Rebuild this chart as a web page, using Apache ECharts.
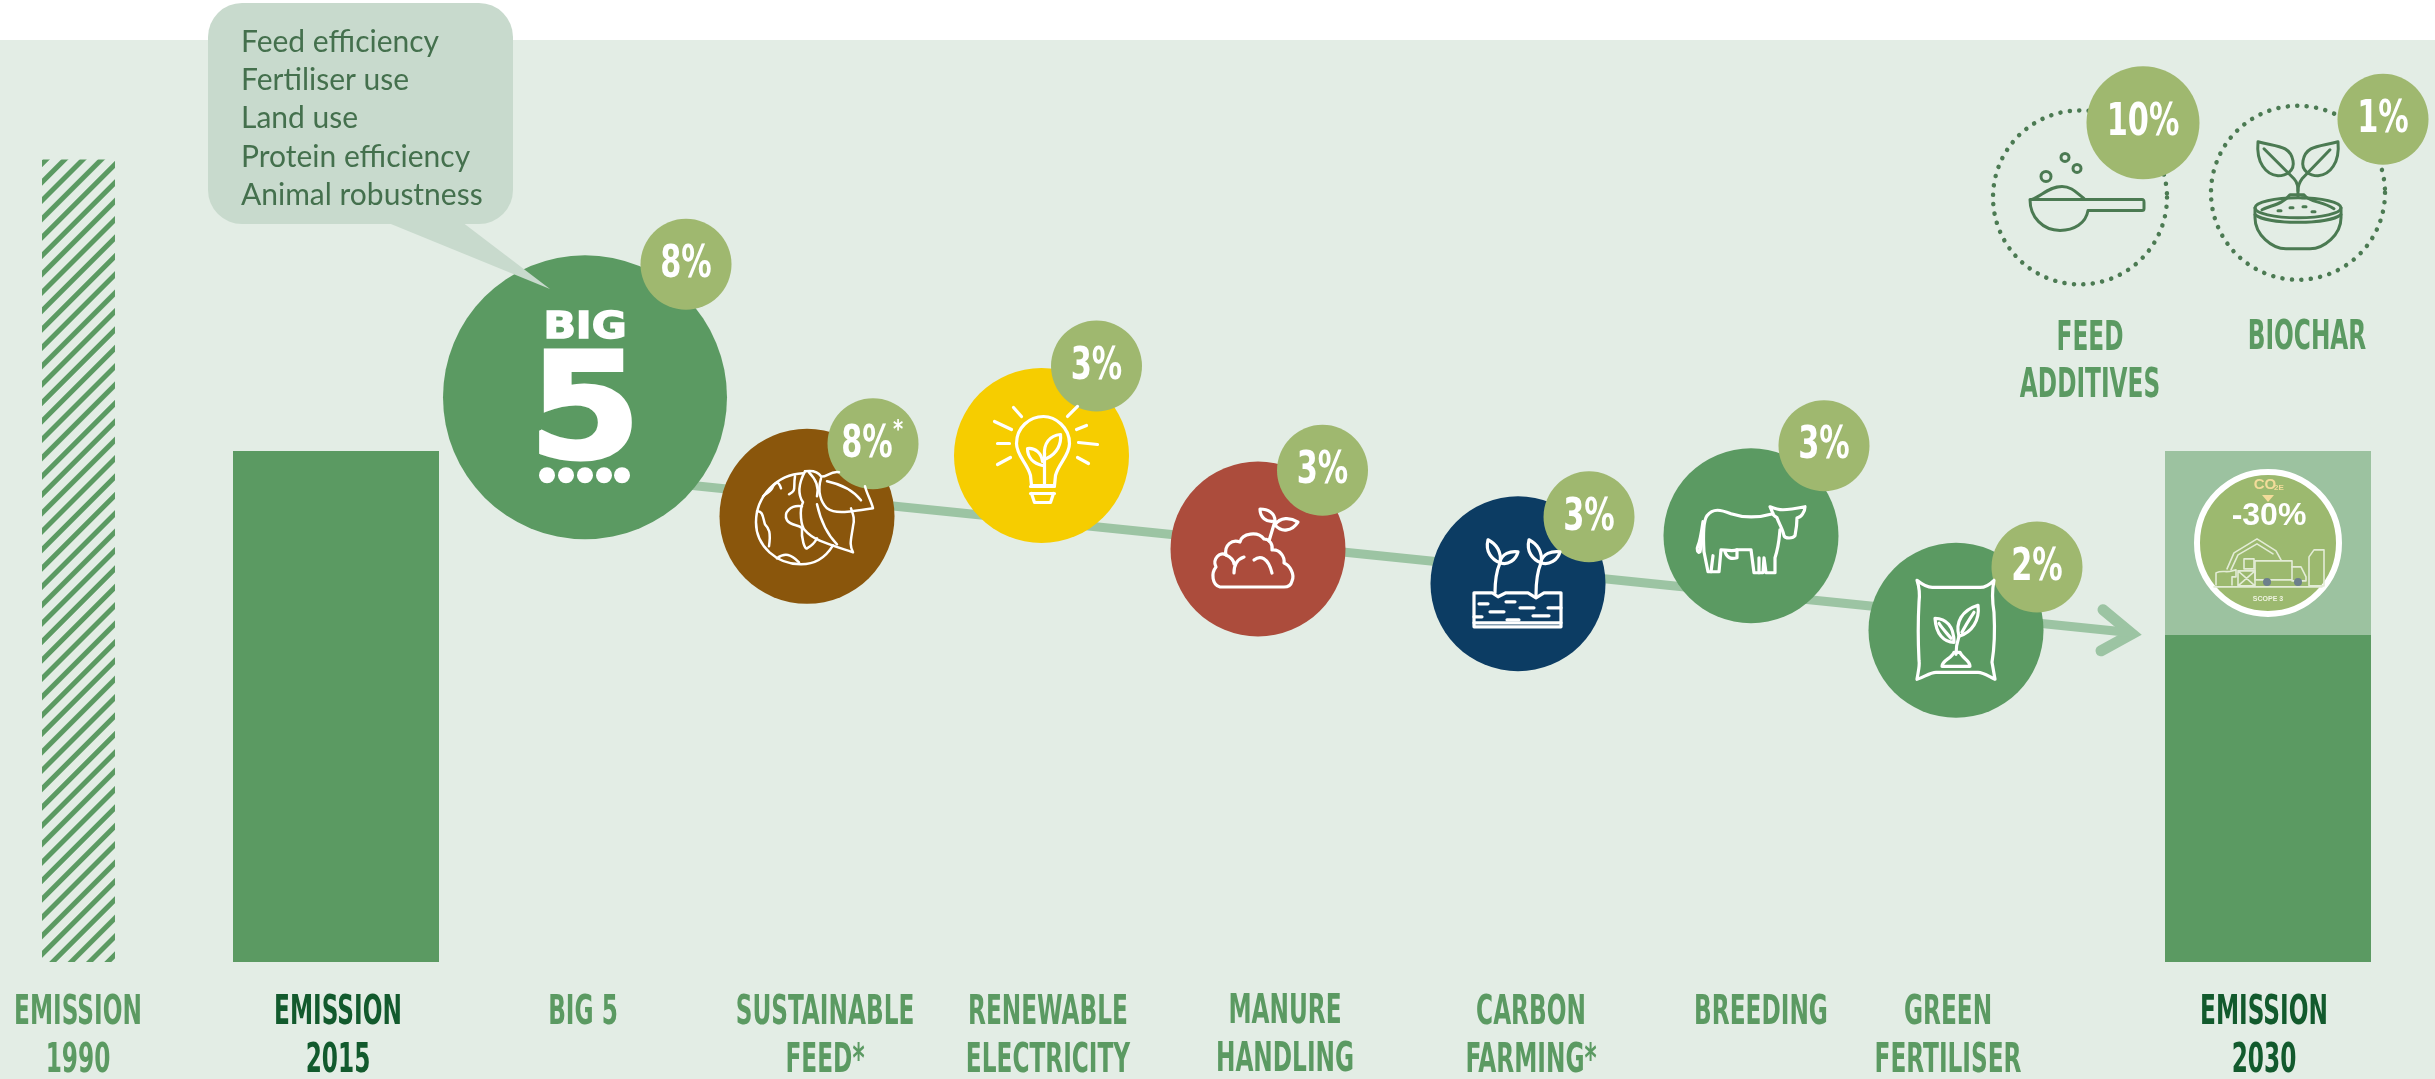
<!DOCTYPE html>
<html>
<head>
<meta charset="utf-8">
<style>
  html, body { margin: 0; padding: 0; background: #fff; }
  #chart { width: 2435px; height: 1079px; }
</style>
<script src="https://cdn.jsdelivr.net/npm/echarts@6/dist/echarts.min.js"></script>
</head>
<body>
<div id="chart"></div>
<script>
  // 数据
  var categories = ['EMISSION\n1990', 'EMISSION\n2015', 'BIG 5', 'SUSTAINABLE\nFEED*', 'RENEWABLE\nELECTRICITY',
    'MANURE\nHANDLING', 'CARBON\nFARMING*', 'BREEDING', 'GREEN\nFERTILISER', 'EMISSION\n2030'];
  var emission1990 = 157;
  var emission2015 = 100;
  var emission2030 = 64;
  var reduction2030 = 36;
  var stepShares = ['8%', '8%*', '3%', '3%', '3%', '3%', '2%'];
  var stepLevels = [110.5, 87.2, 99.1, 80.8, 74, 83.4, 64.9];
  var badgeLevels = [136.5, 101.4, 116.6, 96.2, 87.1, 101, 77.3];
  var extraNames = ['FEED\nADDITIVES', 'BIOCHAR'];
  var extraShares = ['10%', '1%'];
  var extraLevels = [149.6, 150.5];
  var extraBadgeLevels = [164.2, 164.9];
  var trendLevels = [95.4, 64.4];
  var big5Items = ['Feed efficiency', 'Fertiliser use', 'Land use', 'Protein efficiency', 'Animal robustness'];

  // 位置（x 轴单位）
  var labelX = [78, 338, 583, 825, 1048, 1285, 1531, 1761, 1948, 2264];
  var barX = [78.5, 336, 2268];
  var stepX = [585, 807, 1041.5, 1258, 1518, 1751, 1956];
  var badgeX = [686, 873, 1096.5, 1322.5, 1589, 1824, 2037];
  var extraX = [2080, 2298];
  var extraBadgeX = [2143, 2383];
  var extraLabelX = [2090, 2307];
  var trendX = [585, 2132];
  var X_MAX = 2435;

  var GREEN = '#5b9a62';
  var LIGHT_GREEN = '#9cc2a0';
  var BADGE = '#9fb86f';
  var BG = '#e3ede5';
  var DARK_LABEL = '#125a2d';
  var ICON_GREEN = '#4b7a52';
  var stepColors = [GREEN, '#8a560c', '#f6cd00', '#ac4c3c', '#0c3c63', GREEN, GREEN];
  var CONDENSED = '"DejaVu Sans Condensed", "DejaVu Sans", sans-serif';
  var LABEL_FONT = 'bold 41px ' + CONDENSED;
  var LABEL_SCALE = 0.63;
  var SHARE_FONT = 'bold 45px ' + CONDENSED;
  var SHARE_SCALE = 0.75;

  // 图标（相对圆心的路径）
  var icons = {
    earth: [
      'M-4 -43 C-30 -42 -51 -20 -51 6 C-51 30 -30 48 -6 48 C8 48 18 42 26 29',
      'M-44 -20 C-40 -24 -36 -24 -34 -30 C-30 -36 -28 -34 -26 -28',
      'M-50 -5 C-44 -6 -44 2 -42 8 C-38 12 -36 16 -38 30',
      'M-12 -40 C-14 -28 -10 -26 -18 -22',
      'M-5 -10 C-16 -12 -24 -4 -20 4 C-16 10 -8 8 -5 12 C-6 22 -2 34 0 32 C4 30 8 26 10 22',
      'M-30 42 C-22 36 -16 38 -8 46',
      'M-2 -45 C-10 -30 -8 -20 -4 -14 C-8 -6 -6 10 -2 14 C6 24 22 28 46 36 C42 28 44 24 46 10 C48 2 46 -2 44 -8',
      'M10 -12 C14 6 22 20 30 28',
      'M-2 -45 C4 -46 10 -46 14 -40 C18 -38 24 -46 32 -44',
      'M14 -38 C10 -25 14 -14 20 -8 C28 -2 40 -4 66 -8 C64 -16 60 -22 58 -30',
      'M20 -35 C34 -32 46 -26 54 -16',
      'M2 -44 C10 -36 12 -28 10 -20'
    ],
    bulb: [
      'M2 -39 C-12 -39 -25 -28 -25 -12 C-25 0 -14 8 -11 20 L-10 30 L13 30 L14 20 C17 8 28 0 28 -12 C28 -28 14 -39 2 -39 Z',
      'M-11 31 H13 M-11 38 H13 M-10 38 L-7 47 H9 L12 38',
      'M3 29 V-2',
      'M3 0 C2 -12 8 -20 19 -21 C20 -12 16 -2 5 3',
      'M1 10 C-8 8 -14 2 -14 -7 C-6 -8 0 -2 1 6',
      'M-28 -48 L-20 -39 M-47 -34 L-30 -26 M-44 -12 L-32 -12 M-44 9 L-31 2',
      'M26 -39 L36 -49 M35 -26 L45 -30 M37 -13 L56 -11 M36 2 L47 8'
    ],
    cloud: [
      'M-38 38 C-46 36 -47 24 -42 18 C-46 10 -38 2 -32 6 C-34 -4 -26 -10 -18 -7 C-16 -16 0 -18 6 -10 C12 -10 15 -4 14 1 C22 0 27 8 26 14 C32 16 37 26 34 32 C33 36 30 38 26 38 Z',
      'M-32 6 C-27 8 -24 12 -24 15',
      'M-24 24 C-24 14 -20 10 -14 8',
      'M-4 11 C2 6 10 8 14 24',
      'M11 -8 L17 -28',
      'M17 -28 C8 -26 2 -32 2 -40 C10 -40 17 -36 17 -28 Z',
      'M17 -24 C22 -32 32 -32 40 -27 C34 -18 24 -16 17 -24 Z'
    ],
    soil: [
      'M-44 9 H-26 L-20 13 L-12 9 H10 L18 14 L26 9 H43 V43 H-44 Z',
      'M-44 39 H43',
      'M-39 20 H-30 M-12 18 H-3 M2 24 H16 M30 24 H43 M-28 28 H-14 M15 32 H31 M-11 36 H1 M-44 33 H-36',
      'M-23 9 C-23 -4 -21 -14 -18 -21',
      'M-18 -21 C-26 -24 -33 -32 -30 -44 C-22 -40 -16 -32 -18 -21 Z',
      'M-18 -22 C-16 -30 -8 -33 0 -32 C-2 -24 -10 -18 -18 -21 Z',
      'M18 11 C18 -4 20 -14 23 -21',
      'M23 -21 C15 -24 8 -32 11 -44 C19 -40 25 -32 23 -21 Z',
      'M23 -22 C25 -30 33 -33 42 -32 C40 -24 31 -18 23 -21 Z'
    ],
    cow: [
      'M22 -22 C8 -18 -8 -18 -20 -22 C-30 -26 -38 -28 -44 -20 C-48 -14 -48 0 -47 16 L-43 36 H-32 L-30 14 C-26 14 -18 16 -14 14 C-8 14 -4 14 0 14 L3 37 H12 L13 22 L15 37 H24 L24 22 C28 10 28 4 29 -6',
      'M22 -22 L19 -29 C24 -27 28 -26 32 -26 C38 -26 44 -27 54 -29 C54 -24 50 -18 46 -18 C46 -10 45 -5 44 0 C42 3 34 3 33 0 C32 -6 28 -12 26 -18 C24 -20 22 -20 22 -22',
      'M-48 -14 C-50 0 -51 6 -53 10 C-55 14 -53 18 -51 16 C-50 12 -50 6 -49 0',
      'M-26 16 C-24 22 -20 24 -14 22 V14',
      'M-40 36 L-38 20 M8 37 L8 22'
    ],
    bag: [
      'M-39 -50 C-34 -46 -28 -42 -22 -43 H22 C28 -42 34 -46 38 -50 C36 -40 36 -30 38 -18 C39 0 38 20 36 32 L39 49 C34 47 28 42 22 42 H-20 C-26 42 -32 47 -39 49 C-38 42 -36 36 -37 30 C-38 10 -38 -10 -37 -28 C-36 -36 -37 -44 -39 -50 Z',
      'M0 24 C0 16 1 12 3 6',
      'M-14 36 H14 C14 30 6 28 4 22 H-2 C-4 28 -14 30 -14 36 Z',
      'M3 6 C-1 -8 6 -20 22 -25 C24 -10 16 2 3 6 Z',
      'M-2 12 C-12 12 -20 4 -21 -12 C-10 -12 -2 -4 -2 12 Z',
      'M6 2 C10 -6 14 -12 18 -18 M-5 8 C-10 2 -14 -2 -17 -7'
    ],
    scoop: [
      'M-50 2 H62 C64 2 64 3 64 5 V11 C64 13 63 13 62 13 H8 C6 26 -6 33 -20 33 C-37 33 -50 20 -50 2 Z',
      'M-48 2 C-38 -2 -30 -11 -18 -11 C-8 -11 -2 -3 4 1',
      'M-39 -21 A5 5 0 1 0 -29 -21 A5 5 0 1 0 -39 -21',
      'M-19 -40 A4 4 0 1 0 -11 -40 A4 4 0 1 0 -19 -40',
      'M-7 -29 A4 4 0 1 0 1 -29 A4 4 0 1 0 -7 -29'
    ],
    biochar: [
      'M-40 -51 C-22 -46 -8 -48 -5 -32 C-3 -22 -12 -17 -20 -17 C-32 -18 -42 -30 -40 -51 Z',
      'M-34 -44 L-4 -14 C0 -10 0 -6 0 4',
      'M40 -51 C22 -46 8 -48 5 -32 C3 -22 12 -17 20 -17 C32 -18 42 -30 40 -51 Z',
      'M32 -43 L4 -14 C1 -10 0 -6 0 -2',
      'M-43 15 A43 10 0 1 1 43 15 A43 10 0 1 1 -43 15',
      'M-43 15 V25 C-43 42 -26 56 -12 56 H12 C26 56 43 42 43 25 V15',
      'M-43 22 C-30 32 30 32 43 22',
      'M-36 17 C-26 12 -16 12 -8 2 H6 C12 10 24 8 36 16',
      'M-20 18 h3 M-8 15 h3 M5 14 h3 M4 5 h3 M14 19 h3'
    ],
    farm: [
      'M-41 26 L-34 10 L-11 -4 L8 8 L13 17',
      'M-37 27 L-30 12 L-11 1 L5 11',
      'M-24 16 H-14 V26 H-24 Z',
      'M-13 18 H24 V37 H-13 Z',
      'M24 24 H33 L38 34 V38 H24',
      'M-30 28 H-13 V43 H-30 Z M-30 28 L-13 43 M-13 28 L-30 43',
      'M41 14 L46 7 H56 V43 H41 Z',
      'M-54 44 H54',
      'M-52 42 V30 C-46 27 -42 30 -36 28 L-32 27 V34 H-36 V42'
    ]
  };
  var stepIcons = [null, 'earth', 'bulb', 'cloud', 'soil', 'cow', 'bag'];

  // 路径转成 custom 元素
  function iconPaths(name, color, width) {
    return icons[name].map(function (d) {
      return {
        type: 'path',
        shape: { pathData: d },
        style: { fill: 'none', stroke: color, lineWidth: width, lineCap: 'round', lineJoin: 'round' }
      };
    });
  }

  function textEl(x, y, text, font, fill, scaleX, lineHeight, stroke) {
    return {
      type: 'text',
      x: x,
      y: y,
      scaleX: scaleX || 1,
      style: {
        text: text,
        font: font,
        fill: fill,
        stroke: stroke ? fill : undefined,
        lineWidth: stroke || 0,
        align: 'center',
        verticalAlign: 'middle',
        lineHeight: lineHeight || undefined
      }
    };
  }

  var barAxis = function () {
    return { type: 'value', min: 0, max: X_MAX, show: false };
  };

  var option = {
    animation: false,
    backgroundColor: '#fff',
    grid: { left: 0, right: 0, top: 42, bottom: 117 },
    // 每根柱子一条 x 轴，宽度互不影响
    xAxis: [barAxis(), barAxis(), barAxis(), barAxis()],
    yAxis: { type: 'value', min: 0, max: 180, show: false },
    graphic: {
      elements: [
        { type: 'rect', z: -10, shape: { x: 0, y: 40, width: X_MAX, height: 1039 }, style: { fill: BG } },
        {
          type: 'polygon', z: 100,
          shape: { points: [[386, 222], [462, 222], [550, 289]] },
          style: { fill: '#c8dacd' }
        },
        {
          type: 'rect', z: 100,
          shape: { x: 208, y: 3, width: 305, height: 221, r: 34 },
          style: { fill: '#c8dacd' }
        }
      ].concat(big5Items.map(function (item, i) {
        return {
          type: 'text', z: 101, x: 241, y: 42 + i * 38.4,
          style: { text: item, font: '30px Lato', fill: '#44704d', align: 'left', verticalAlign: 'middle' }
        };
      }))
    },
    series: [
      {
        name: 'Emission 1990', type: 'bar', xAxisIndex: 0, barWidth: 73, z: 2,
        data: [[barX[0], emission1990]],
        itemStyle: {
          color: BG,
          decal: {
            symbol: 'rect', symbolSize: 1, color: GREEN,
            dashArrayX: [1, 0], dashArrayY: [5, 8], rotation: -Math.PI / 4
          }
        }
      },
      {
        name: 'Emission 2015', type: 'bar', xAxisIndex: 1, barWidth: 206, z: 2,
        data: [[barX[1], emission2015]],
        itemStyle: { color: GREEN }
      },
      // 2030：浅色是减排量，叠在深色后面
      {
        name: 'Reduction', type: 'bar', xAxisIndex: 2, barWidth: 206, barGap: '-100%', z: 2,
        data: [[barX[2], emission2030 + reduction2030]],
        itemStyle: { color: LIGHT_GREEN }
      },
      {
        name: 'Emission 2030', type: 'bar', xAxisIndex: 2, barWidth: 206, barGap: '-100%', z: 2,
        data: [[barX[2], emission2030]],
        itemStyle: { color: GREEN }
      },
      // 趋势线
      {
        name: 'Trend', type: 'line', xAxisIndex: 3, z: 3, symbol: 'none', silent: true,
        data: [[trendX[0], trendLevels[0]], [trendX[1], trendLevels[1]]],
        lineStyle: { color: '#9cc4a3', width: 9 }
      },
      // 箭头
      {
        name: 'Arrow', type: 'custom', xAxisIndex: 3, z: 3,
        data: [[trendX[1], trendLevels[1]]],
        renderItem: function (params, api) {
          var p = api.coord([api.value(0), api.value(1)]);
          return {
            type: 'path', x: p[0], y: p[1],
            shape: { pathData: 'M-29 -23 L0 1 L-31 18' },
            style: { fill: 'none', stroke: '#9cc4a3', lineWidth: 11, lineCap: 'round', lineJoin: 'miter' }
          };
        }
      },
      // 大圆
      {
        name: 'Steps', type: 'scatter', xAxisIndex: 3, z: 4, symbol: 'circle',
        symbolSize: function (val, p) { return p.dataIndex === 0 ? 284 : 175; },
        data: stepLevels.map(function (v, i) {
          return { value: [stepX[i], v], itemStyle: { color: stepColors[i], opacity: 1 } };
        })
      },
      // 百分比小圆
      {
        name: 'Shares', type: 'scatter', xAxisIndex: 3, z: 5, symbol: 'circle', symbolSize: 91,
        itemStyle: { color: BADGE, opacity: 1 },
        data: badgeLevels.map(function (v, i) { return [badgeX[i], v]; })
      },
      {
        name: 'Share text', type: 'custom', xAxisIndex: 3, z: 6, silent: true,
        data: badgeLevels.map(function (v, i) { return [badgeX[i], v, i]; }),
        renderItem: function (params, api) {
          var i = api.value(2);
          var p = api.coord([api.value(0), api.value(1)]);
          var s = stepShares[i];
          if (s.indexOf('*') > -1) {
            return {
              type: 'group', x: p[0], y: p[1],
              children: [
                textEl(-6, 2, s.replace('*', ''), SHARE_FONT, '#fff', SHARE_SCALE),
                textEl(25, -13, '*', 'bold 24px ' + CONDENSED, '#fff', 0.9)
              ]
            };
          }
          return textEl(p[0], p[1] + 1, s, SHARE_FONT, '#fff', SHARE_SCALE);
        }
      },
      // 图标
      {
        name: 'Icons', type: 'custom', xAxisIndex: 3, z: 6, silent: true,
        data: stepLevels.map(function (v, i) { return [stepX[i], v, i]; }),
        renderItem: function (params, api) {
          var i = api.value(2);
          var p = api.coord([api.value(0), api.value(1)]);
          var children;
          if (i === 0) {
            children = [
              textEl(0, -69, 'BIG', 'bold 38px "DejaVu Sans"', '#fff', 1.12, null, 1.5),
              textEl(0, 22, '5', 'bold 148px "DejaVu Sans"', '#fff', 1.1, null, 3)
            ];
            [-38, -19, 0, 19, 37].forEach(function (dx) {
              children.push({ type: 'circle', shape: { cx: dx, cy: 78, r: 8 }, style: { fill: '#fff' } });
            });
          } else {
            children = iconPaths(stepIcons[i], '#fff', i === 1 ? 2.5 : 3.2);
          }
          return { type: 'group', x: p[0], y: p[1], children: children };
        }
      },
      // 2030 徽章
      {
        name: 'Target', type: 'custom', xAxisIndex: 3, z: 6, silent: true,
        data: [[barX[2], emission2030 + reduction2030 / 2]],
        renderItem: function (params, api) {
          var p = api.coord([api.value(0), api.value(1)]);
          var children = [
            { type: 'circle', shape: { cx: 0, cy: 0, r: 71 }, style: { fill: '#9cb96f', stroke: '#fff', lineWidth: 6 } },
            { type: 'polygon', shape: { points: [[-6, -48], [6, -48], [0, -41]] }, style: { fill: '#f3dc9a' } },
            textEl(-3, -58, 'CO', 'bold 15px "Liberation Sans"', '#f3dc9a'),
            textEl(11, -55, '2E', 'bold 8px "Liberation Sans"', '#f3dc9a'),
            textEl(1, -27, '-30%', 'bold 32px "Liberation Sans"', '#fff'),
            textEl(0, 56, 'SCOPE 3', 'bold 7px "Liberation Sans"', '#eef3df')
          ].concat(iconPaths('farm', '#e3ecd6', 1.6));
          children.push({ type: 'circle', shape: { cx: -1, cy: 39, r: 4 }, style: { fill: '#6d7f8c' } });
          children.push({ type: 'circle', shape: { cx: 30, cy: 39, r: 4 }, style: { fill: '#6d7f8c' } });
          return { type: 'group', x: p[0], y: p[1], children: children };
        }
      },
      // 右上角：虚线圆
      {
        name: 'Extra levers', type: 'scatter', xAxisIndex: 3, z: 4, symbol: 'circle', symbolSize: 174,
        data: extraLevels.map(function (v, i) { return [extraX[i], v]; }),
        itemStyle: {
          color: 'transparent', opacity: 1, borderColor: ICON_GREEN, borderWidth: 4.5,
          borderType: [0.1, 9.4], borderCap: 'round'
        }
      },
      {
        name: 'Extra icons', type: 'custom', xAxisIndex: 3, z: 5, silent: true,
        data: extraLevels.map(function (v, i) { return [extraX[i], v, i]; }),
        renderItem: function (params, api) {
          var i = api.value(2);
          var p = api.coord([api.value(0), api.value(1)]);
          return { type: 'group', x: p[0], y: p[1], children: iconPaths(i === 0 ? 'scoop' : 'biochar', ICON_GREEN, 3) };
        }
      },
      {
        name: 'Extra shares', type: 'scatter', xAxisIndex: 3, z: 6, symbol: 'circle',
        symbolSize: function (val, p) { return p.dataIndex === 0 ? 113 : 91; },
        data: extraBadgeLevels.map(function (v, i) { return [extraBadgeX[i], v]; }),
        itemStyle: { color: BADGE, opacity: 1 }
      },
      {
        name: 'Extra share text', type: 'custom', xAxisIndex: 3, z: 7, silent: true,
        data: extraBadgeLevels.map(function (v, i) { return [extraBadgeX[i], v, i]; }),
        renderItem: function (params, api) {
          var i = api.value(2);
          var p = api.coord([api.value(0), api.value(1)]);
          return textEl(p[0], p[1] + 1, extraShares[i], SHARE_FONT, '#fff', SHARE_SCALE);
        }
      },
      // 类目文字
      {
        name: 'Labels', type: 'custom', xAxisIndex: 3, z: 6, silent: true,
        data: categories.map(function (c, i) { return [labelX[i], 0, i]; }),
        renderItem: function (params, api) {
          var i = api.value(2);
          var p = api.coord([api.value(0), api.value(1)]);
          var dark = i === 1 || i === 9;
          var name = categories[i];
          var dy = name.indexOf('\n') > -1 ? 75 : 51;
          if (i === 5) dy = 74;
          return textEl(p[0], p[1] + dy, name, LABEL_FONT, dark ? DARK_LABEL : GREEN, LABEL_SCALE, 48);
        }
      },
      {
        name: 'Extra labels', type: 'custom', xAxisIndex: 3, z: 6, silent: true,
        data: extraNames.map(function (c, i) { return [extraLabelX[i], extraLevels[0], i]; }),
        renderItem: function (params, api) {
          var i = api.value(2);
          var p = api.coord([api.value(0), api.value(1)]);
          var y = i === 0 ? p[1] + 165 : p[1] + 141;
          return textEl(p[0], y, extraNames[i], LABEL_FONT, GREEN, LABEL_SCALE, 47);
        }
      }
    ]
  };

  var chart = echarts.init(document.getElementById('chart'));
  chart.setOption(option);
</script>
</body>
</html>
